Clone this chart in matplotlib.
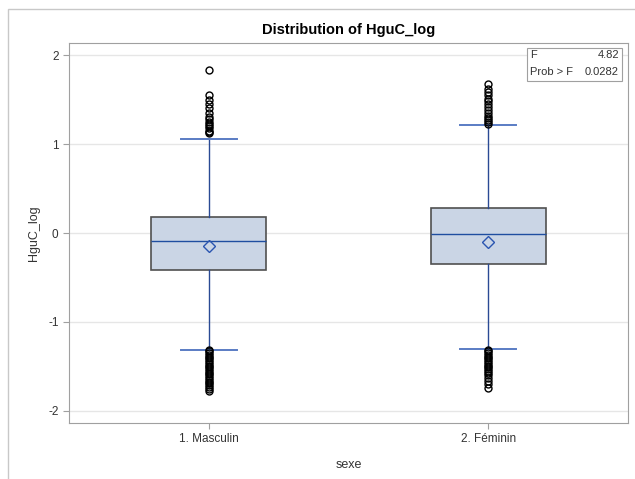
import matplotlib
matplotlib.use("Agg")
import matplotlib.pyplot as plt
import matplotlib.patches as patches

plt.rcParams['font.family'] = ['Liberation Sans', 'DejaVu Sans']

# Data
CATEGORIES = ["1. Masculin", "2. Féminin"]
Q1 = [-0.42, -0.35]
MEDIAN = [-0.09, -0.01]
Q3 = [0.18, 0.28]
MEAN = [-0.15, -0.10]
WHISK_LO = [-1.31, -1.30]
WHISK_HI = [1.06, 1.21]
FLIERS_M = [1.83, 1.55, 1.50, 1.45, 1.40, 1.35, 1.30, 1.28, 1.25, 1.23, 1.20, 1.18, 1.15, 1.13, 1.12,
            -1.31, -1.33, -1.35, -1.37, -1.39, -1.41, -1.43, -1.45, -1.47, -1.49, -1.51, -1.53,
            -1.55, -1.57, -1.59, -1.61, -1.63, -1.65, -1.67, -1.69, -1.71, -1.73, -1.75, -1.77]
FLIERS_F = [1.67, 1.62, 1.58, 1.55, 1.51, 1.48, 1.45, 1.42, 1.38, 1.35, 1.32, 1.29, 1.27, 1.25, 1.23,
            -1.31, -1.33, -1.35, -1.37, -1.39, -1.41, -1.43, -1.45, -1.47, -1.49, -1.51, -1.53,
            -1.55, -1.57, -1.60, -1.63, -1.66, -1.70, -1.74]
F_VALUE = "4.82"
PROB_F = "0.0282"

W, H = 635, 479
fig = plt.figure(figsize=(W / 100, H / 100), dpi=100)
ax = fig.add_axes([69 / W, 1 - 423 / H, (628 - 69) / W, (423 - 43) / H])

# outer frame round the whole graph (runs off the right and bottom edges)
fig.patches.append(patches.Rectangle((8 / W, -0.1), 1.2, 1.1 - 9 / H, transform=fig.transFigure,
                                     fill=False, edgecolor='#c8c8c8', linewidth=1.0))

stats = []
for i, cat in enumerate(CATEGORIES):
    stats.append({
        'label': cat, 'q1': Q1[i], 'med': MEDIAN[i], 'q3': Q3[i], 'mean': MEAN[i],
        'whislo': WHISK_LO[i], 'whishi': WHISK_HI[i],
        'fliers': FLIERS_M if i == 0 else FLIERS_F,
    })

ax.bxp(stats, positions=[1, 2], widths=0.41, patch_artist=True, showmeans=True,
       boxprops=dict(facecolor='#cad5e5', edgecolor='#505050', linewidth=1.2),
       medianprops=dict(color='#1f4ea0', linewidth=1.0),
       whiskerprops=dict(color='#2a4a94', linewidth=1.0),
       capprops=dict(color='#5a7cc4', linewidth=1.4),
       capwidths=0.2,
       meanprops=dict(marker='D', markerfacecolor='none', markeredgecolor='#2a55b0',
                      markersize=6, markeredgewidth=1.0),
       flierprops=dict(marker='o', markerfacecolor='none', markeredgecolor='black',
                       markersize=5, markeredgewidth=1.0))

ax.set_xlim(0.5, 2.5)
ax.set_ylim(-2.135, 2.135)
ax.set_yticks([-2, -1, 0, 1, 2])
ax.set_yticklabels(['-2', '-1', '0', '1', '2'])
ax.set_xticks([1, 2])
ax.set_xticklabels(CATEGORIES)
ax.yaxis.grid(True, color='#e6e6e6', linewidth=1.0)
ax.set_axisbelow(True)
for sp in ax.spines.values():
    sp.set_color('#a0a0a0')
ax.tick_params(colors='#a0a0a0', labelcolor='#333333', labelsize=8.5, length=4)

ax.set_xlabel("sexe", fontsize=9, color='#333333', labelpad=10)
ax.set_ylabel("HguC_log", fontsize=9, color='#333333', labelpad=6)
fig.text((263 + 434) / 2 / W, 1 - 30 / H, "Distribution of HguC_log", ha='center', va='center',
         fontsize=10.5, fontweight='bold')

# F statistic inset
x0, x1 = (527 - 69) / 559, (622 - 69) / 559
y0, y1 = 1 - (81 - 43) / 380, 1 - (48 - 43) / 380
ax.add_patch(patches.Rectangle((x0, y0), x1 - x0, y1 - y0, transform=ax.transAxes,
                               facecolor='white', edgecolor='#a0a0a0', linewidth=0.8, zorder=5))
row1 = 1 - (55 - 43) / 380
row2 = 1 - (72 - 43) / 380
xl = (530 - 69) / 559
xr = (619 - 69) / 559
ax.text(xl, row1, "F", transform=ax.transAxes, ha='left', va='center', fontsize=8, color='#333333', zorder=6)
ax.text(xl, row2, "Prob > F", transform=ax.transAxes, ha='left', va='center', fontsize=8, color='#333333', zorder=6)
ax.text(xr, row1, F_VALUE, transform=ax.transAxes, ha='right', va='center', fontsize=8, color='#333333', zorder=6)
ax.text(xr, row2, PROB_F, transform=ax.transAxes, ha='right', va='center', fontsize=8, color='#333333', zorder=6)

fig.savefig("out.png", dpi=100)
